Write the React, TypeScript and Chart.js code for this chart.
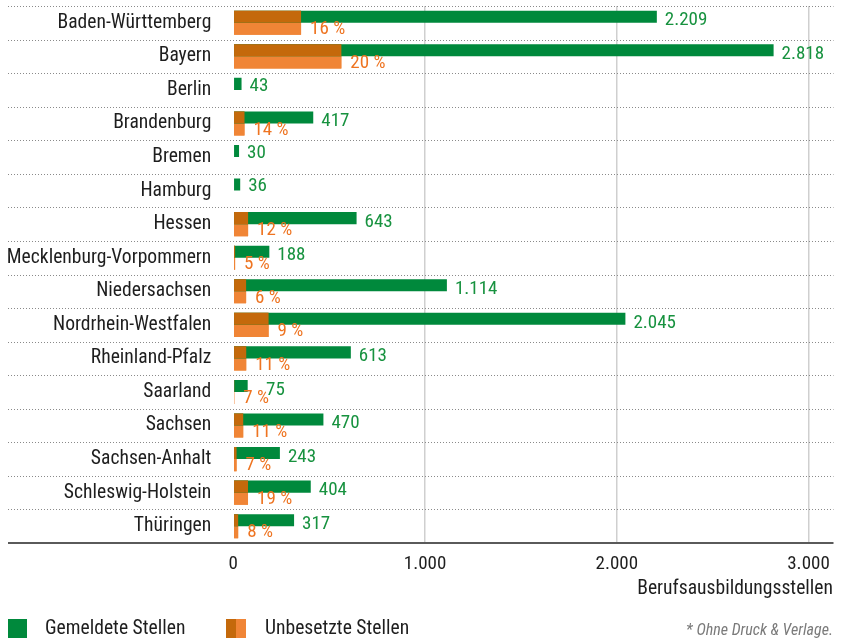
import React, { useEffect, useRef } from 'react';
import { Chart, registerables } from 'chart.js';

Chart.register(...registerables);

// ---------- data ----------
const states = [
  'Baden-Württemberg',
  'Bayern',
  'Berlin',
  'Brandenburg',
  'Bremen',
  'Hamburg',
  'Hessen',
  'Mecklenburg-Vorpommern',
  'Niedersachsen',
  'Nordrhein-Westfalen',
  'Rheinland-Pfalz',
  'Saarland',
  'Sachsen',
  'Sachsen-Anhalt',
  'Schleswig-Holstein',
  'Thüringen',
];
const gemeldeteStellen = [2209, 2818, 43, 417, 30, 36, 643, 188, 1114, 2045, 613, 75, 470, 243, 404, 317];
const unbesetztProzent: (number | null)[] = [16, 20, null, 14, null, null, 12, 5, 6, 9, 11, 7, 11, 7, 19, 8];
const xTicks = [0, 1000, 2000, 3000];
const xAxisTitle = 'Berufsausbildungsstellen';
const legendGemeldet = 'Gemeldete Stellen';
const legendUnbesetzt = 'Unbesetzte Stellen';
const footnote = '* Ohne Druck & Verlage.';

// ---------- styles ----------
const FONT = '"Roboto Condensed", "DejaVu Sans Condensed", sans-serif';
const GREEN = '#00893c';
const DARK_ORANGE = '#c4690b';
const LIGHT_ORANGE = '#f08536';
const GREEN_TEXT = '#17923f';
const ORANGE_TEXT = '#ee7421';
const TEXT = '#1e1e1e';

const unbesetzteStellen = gemeldeteStellen.map((g, i) => {
  const p = unbesetztProzent[i];
  return p == null ? null : (g * p) / 100;
});

const fmt = (v: number) => String(v).replace(/\B(?=(\d{3})+(?!\d))/g, '.');

const rowRules = {
  id: 'rowRules',
  beforeDatasetsDraw(chart: any) {
    const { ctx, chartArea, scales } = chart;
    const y = scales.y;
    const n = states.length;
    const step = (chartArea.bottom - chartArea.top) / n;
    ctx.save();
    ctx.strokeStyle = '#8a8a8a';
    ctx.lineWidth = 1;
    ctx.setLineDash([1, 2]);
    for (let i = 0; i < n; i++) {
      const yy = Math.round(y.getPixelForValue(i) - step / 2) + 0.5;
      ctx.beginPath();
      ctx.moveTo(8, yy);
      ctx.lineTo(chartArea.right + 25, yy);
      ctx.stroke();
    }
    ctx.setLineDash([]);
    ctx.strokeStyle = '#5a5a5a';
    ctx.lineWidth = 2;
    const yb = Math.round(chartArea.bottom);
    ctx.beginPath();
    ctx.moveTo(8, yb);
    ctx.lineTo(chartArea.right + 25, yb);
    ctx.stroke();
    ctx.restore();
  },
  afterDatasetsDraw(chart: any) {
    const { ctx } = chart;
    const greenMeta = chart.getDatasetMeta(1);
    const orangeMeta = chart.getDatasetMeta(3);
    ctx.save();
    ctx.font = `19px ${FONT}`;
    ctx.textBaseline = 'middle';
    ctx.textAlign = 'left';
    for (let i = 0; i < states.length; i++) {
      const gb: any = greenMeta.data[i];
      const pct = unbesetztProzent[i];
      let pctEnd = -Infinity;
      if (pct != null) {
        const ob: any = orangeMeta.data[i];
        const txt = `${pct} %`;
        const px = ob.x + 9;
        const py = ob.y + 6.5;
        ctx.fillStyle = ORANGE_TEXT;
        ctx.fillText(txt, px, py);
        pctEnd = px + ctx.measureText(txt).width;
      }
      const vx = Math.max(gb.x + 8, pctEnd - 3);
      const vy = gb.y + (pct != null ? 4 : 2);
      ctx.fillStyle = GREEN_TEXT;
      ctx.fillText(fmt(gemeldeteStellen[i]), vx, vy);
    }
    ctx.restore();
  },
};

export default function App() {
  const canvasRef = useRef<HTMLCanvasElement | null>(null);

  useEffect(() => {
    if (!canvasRef.current) return;
    const barOpts = { categoryPercentage: 0.72, barPercentage: 1 };
    const chart = new Chart(canvasRef.current, {
      type: 'bar',
      data: {
        labels: states,
        datasets: [
          { label: legendUnbesetzt + ' (Anteil)', data: unbesetzteStellen, backgroundColor: DARK_ORANGE, stack: 'oben', order: 1, ...barOpts },
          { label: legendGemeldet, data: gemeldeteStellen, backgroundColor: GREEN, stack: 'oben', order: 2, ...barOpts },
          { label: legendUnbesetzt, data: unbesetzteStellen, backgroundColor: LIGHT_ORANGE, stack: 'mitte', order: 3, ...barOpts },
          { label: legendUnbesetzt, data: unbesetzteStellen, backgroundColor: LIGHT_ORANGE, stack: 'unten', order: 4, grouped: false, ...barOpts },
        ] as any,
      },
      options: {
        indexAxis: 'y',
        animation: false,
        responsive: false,
        devicePixelRatio: 1,
        layout: { autoPadding: false, padding: { left: 0, right: 32.5, top: 6, bottom: 0 } },
        plugins: { legend: { display: false }, tooltip: { enabled: false } },
        scales: {
          x: {
            type: 'linear',
            min: 0,
            max: 3000,
            stacked: false,
            afterBuildTicks: (scale: any) => {
              scale.ticks = xTicks.map((v) => ({ value: v }));
            },
            afterFit: (scale: any) => {
              scale.height = 97;
              scale.paddingLeft = 0;
              scale.paddingRight = 0;
            },
            ticks: {
              font: { family: FONT, size: 19 },
              color: TEXT,
              padding: 10,
              callback: (v: any) => fmt(Number(v)),
            },
            grid: {
              drawTicks: false,
              lineWidth: 1.5,
              color: (c: any) => (c.tick && c.tick.value === 0 ? 'rgba(0,0,0,0)' : '#cfcfcf'),
            },
            border: { display: false },
          },
          y: {
            type: 'category',
            afterFit: (scale: any) => {
              scale.width = 233.3;
              scale.paddingTop = 0;
              scale.paddingBottom = 0;
            },
            ticks: {
              font: { family: FONT, size: 19.6 },
              color: TEXT,
              padding: 22,
            },
            grid: { display: false, drawTicks: false },
            border: { display: false },
          },
        },
      },
      plugins: [rowRules],
    } as any);
    return () => chart.destroy();
  }, []);

  const textStyle: React.CSSProperties = {
    position: 'absolute',
    fontFamily: FONT,
    fontSize: 19.6,
    lineHeight: '24px',
    color: TEXT,
    whiteSpace: 'nowrap',
  };

  return (
    <div style={{ position: 'absolute', left: 0, top: 0, width: 841, height: 640, overflow: 'hidden' }}>
      <canvas ref={canvasRef} width={841} height={640} style={{ display: 'block', width: 841, height: 640 }} />
      <div style={{ ...textStyle, right: 8, top: 576 }}>{xAxisTitle}</div>
      <div style={{ position: 'absolute', left: 8, top: 619, width: 19, height: 19, background: GREEN }} />
      <div style={{ ...textStyle, left: 45, top: 616 }}>{legendGemeldet}</div>
      <div style={{ position: 'absolute', left: 226, top: 619, width: 10, height: 19, background: DARK_ORANGE }} />
      <div style={{ position: 'absolute', left: 236, top: 619, width: 10, height: 19, background: LIGHT_ORANGE }} />
      <div style={{ ...textStyle, left: 265, top: 616 }}>{legendUnbesetzt}</div>
      <div style={{ ...textStyle, right: 8, top: 618, fontSize: 16, fontStyle: 'italic', color: '#7a7a7a' }}>{footnote}</div>
    </div>
  );
}
